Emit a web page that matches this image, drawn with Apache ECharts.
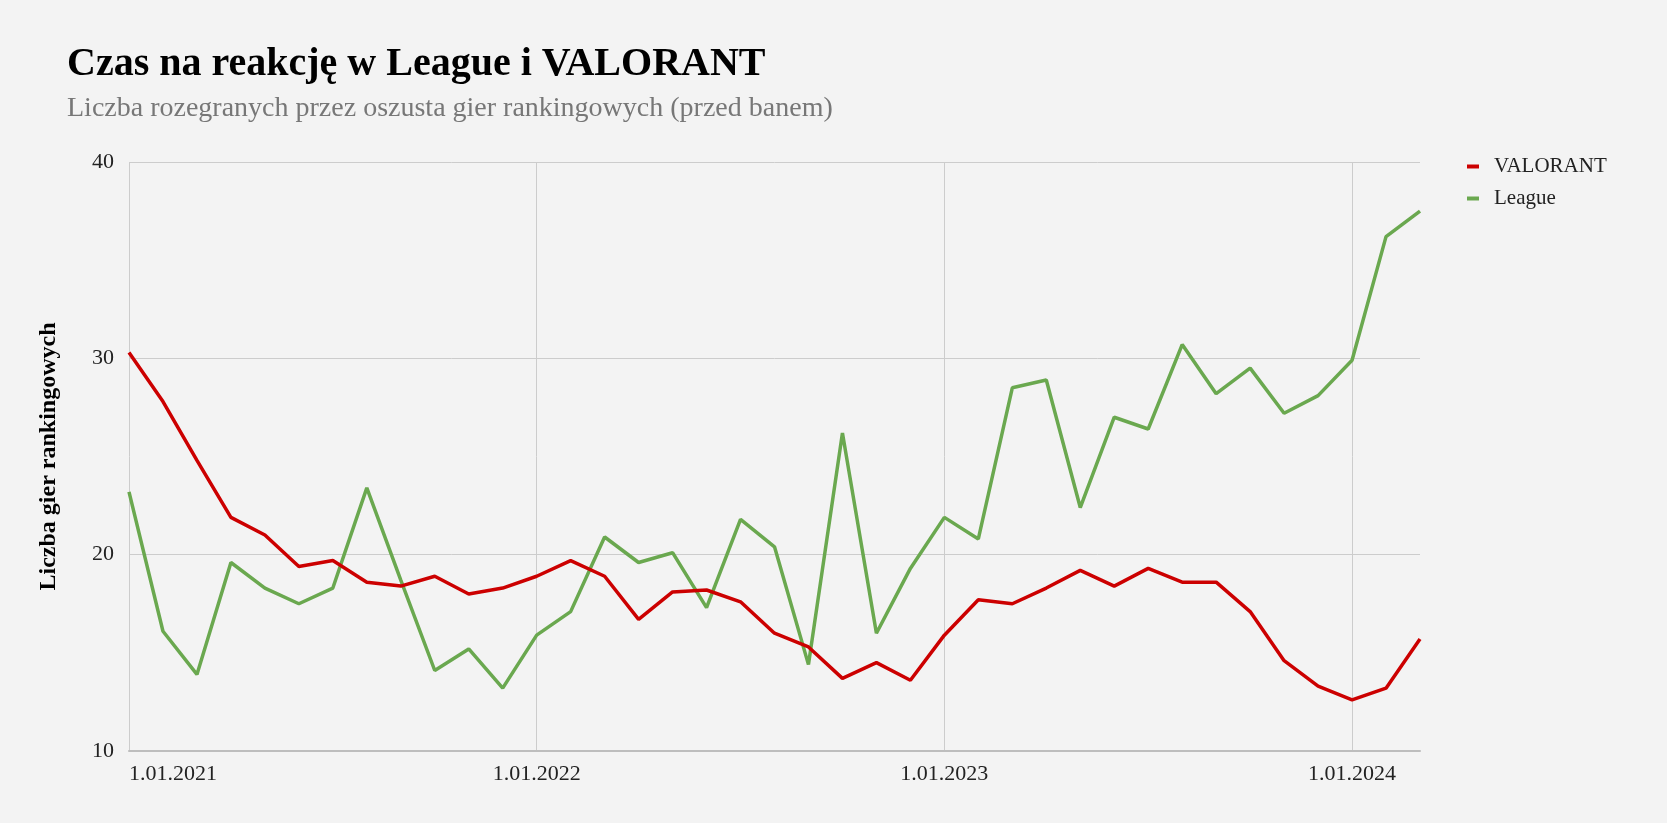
<!DOCTYPE html>
<html>
<head>
<meta charset="utf-8">
<script src="https://cdn.jsdelivr.net/npm/echarts@6/dist/echarts.min.js"></script>
<style>
  html, body { margin: 0; padding: 0; background: #f3f3f3; }
  #chart { width: 1667px; height: 823px; }
</style>
</head>
<body>
<div id="chart"></div>
<script>
// miesiące od 1.01.2021 do 1.03.2024
const months = [
  '1.01.2021', '1.02.2021', '1.03.2021', '1.04.2021', '1.05.2021', '1.06.2021',
  '1.07.2021', '1.08.2021', '1.09.2021', '1.10.2021', '1.11.2021', '1.12.2021',
  '1.01.2022', '1.02.2022', '1.03.2022', '1.04.2022', '1.05.2022', '1.06.2022',
  '1.07.2022', '1.08.2022', '1.09.2022', '1.10.2022', '1.11.2022', '1.12.2022',
  '1.01.2023', '1.02.2023', '1.03.2023', '1.04.2023', '1.05.2023', '1.06.2023',
  '1.07.2023', '1.08.2023', '1.09.2023', '1.10.2023', '1.11.2023', '1.12.2023',
  '1.01.2024', '1.02.2024', '1.03.2024'
]

const valorant = [
  30.3, 27.8, 24.8, 21.9, 21.0, 19.4, 19.7, 18.6, 18.4, 18.9, 18.0, 18.3,
  18.9, 19.7, 18.9, 16.7, 18.1, 18.2, 17.6, 16.0, 15.3, 13.7, 14.5, 13.6,
  15.9, 17.7, 17.5, 18.3, 19.2, 18.4, 19.3, 18.6, 18.6, 17.1, 14.6, 13.3,
  12.6, 13.2, 15.7
]

const league = [
  23.2, 16.1, 13.9, 19.6, 18.3, 17.5, 18.3, 23.4, 18.7, 14.1, 15.2, 13.2,
  15.9, 17.1, 20.9, 19.6, 20.1, 17.3, 21.8, 20.4, 14.4, 26.2, 16.0, 19.3,
  21.9, 20.8, 28.5, 28.9, 22.4, 27.0, 26.4, 30.7, 28.2, 29.5, 27.2, 28.1,
  29.9, 36.2, 37.5
]

const yTicks = { min: 10, max: 40, step: 10 }

const fontFamily = '"Liberation Serif", "DejaVu Serif", serif'

const myChart = echarts.init(document.getElementById('chart'))

// etykiety i linie siatki tylko na początku roku
const yearTick = (index) => index % 12 === 0

const option = {
  backgroundColor: '#f3f3f3',
  textStyle: { fontFamily: fontFamily },
  title: {
    text: 'Czas na reakcję w League i VALORANT',
    subtext: 'Liczba rozegranych przez oszusta gier rankingowych (przed banem)',
    left: 62,
    top: 40,
    itemGap: 10,
    textStyle: {
      fontFamily: fontFamily,
      fontSize: 40,
      fontWeight: 'bold',
      color: '#000000',
    },
    subtextStyle: {
      fontFamily: fontFamily,
      fontSize: 28,
      color: '#777777',
    },
  },
  legend: {
    orient: 'vertical',
    left: 1462,
    top: 151,
    itemGap: 11,
    itemWidth: 12,
    itemHeight: 4,
    icon: 'rect',
    textStyle: {
      fontFamily: fontFamily,
      fontSize: 21,
      color: '#222222',
      padding: [0, 0, 0, 10],
    },
    data: ['VALORANT', 'League'],
  },
  grid: {
    left: 129,
    right: 247,
    top: 162,
    bottom: 72,
  },
  xAxis: {
    type: 'category',
    boundaryGap: false,
    data: months,
    axisLine: {
      show: true,
      lineStyle: { color: '#bdbdbd', width: 2 },
    },
    axisTick: { show: false },
    axisLabel: {
      interval: (index) => yearTick(index),
      alignMinLabel: 'left',
      margin: 12,
      fontSize: 22,
      color: '#222222',
      fontFamily: fontFamily,
    },
    splitLine: {
      show: true,
      interval: (index) => yearTick(index),
      lineStyle: { color: '#cccccc', width: 1 },
    },
  },
  yAxis: {
    type: 'value',
    min: yTicks.min,
    max: yTicks.max,
    interval: yTicks.step,
    name: 'Liczba gier rankingowych',
    nameLocation: 'middle',
    nameGap: 68,
    nameTextStyle: {
      fontFamily: fontFamily,
      fontSize: 24,
      fontWeight: 'bold',
      color: '#000000',
    },
    axisLine: { show: false },
    axisTick: { show: false },
    axisLabel: {
      margin: 15,
      fontSize: 22,
      color: '#222222',
      fontFamily: fontFamily,
    },
    splitLine: {
      lineStyle: { color: '#cccccc', width: 1 },
    },
  },
  series: [
    {
      name: 'VALORANT',
      type: 'line',
      data: valorant,
      showSymbol: false,
      color: '#cc0000',
      lineStyle: { width: 3.5, color: '#cc0000' },
      z: 3,
    },
    {
      name: 'League',
      type: 'line',
      data: league,
      showSymbol: false,
      color: '#6aa84f',
      lineStyle: { width: 3.5, color: '#6aa84f' },
      z: 2,
    },
  ],
}

myChart.setOption(option)

window.addEventListener('resize', function () {
  myChart.resize()
})
</script>
</body>
</html>
